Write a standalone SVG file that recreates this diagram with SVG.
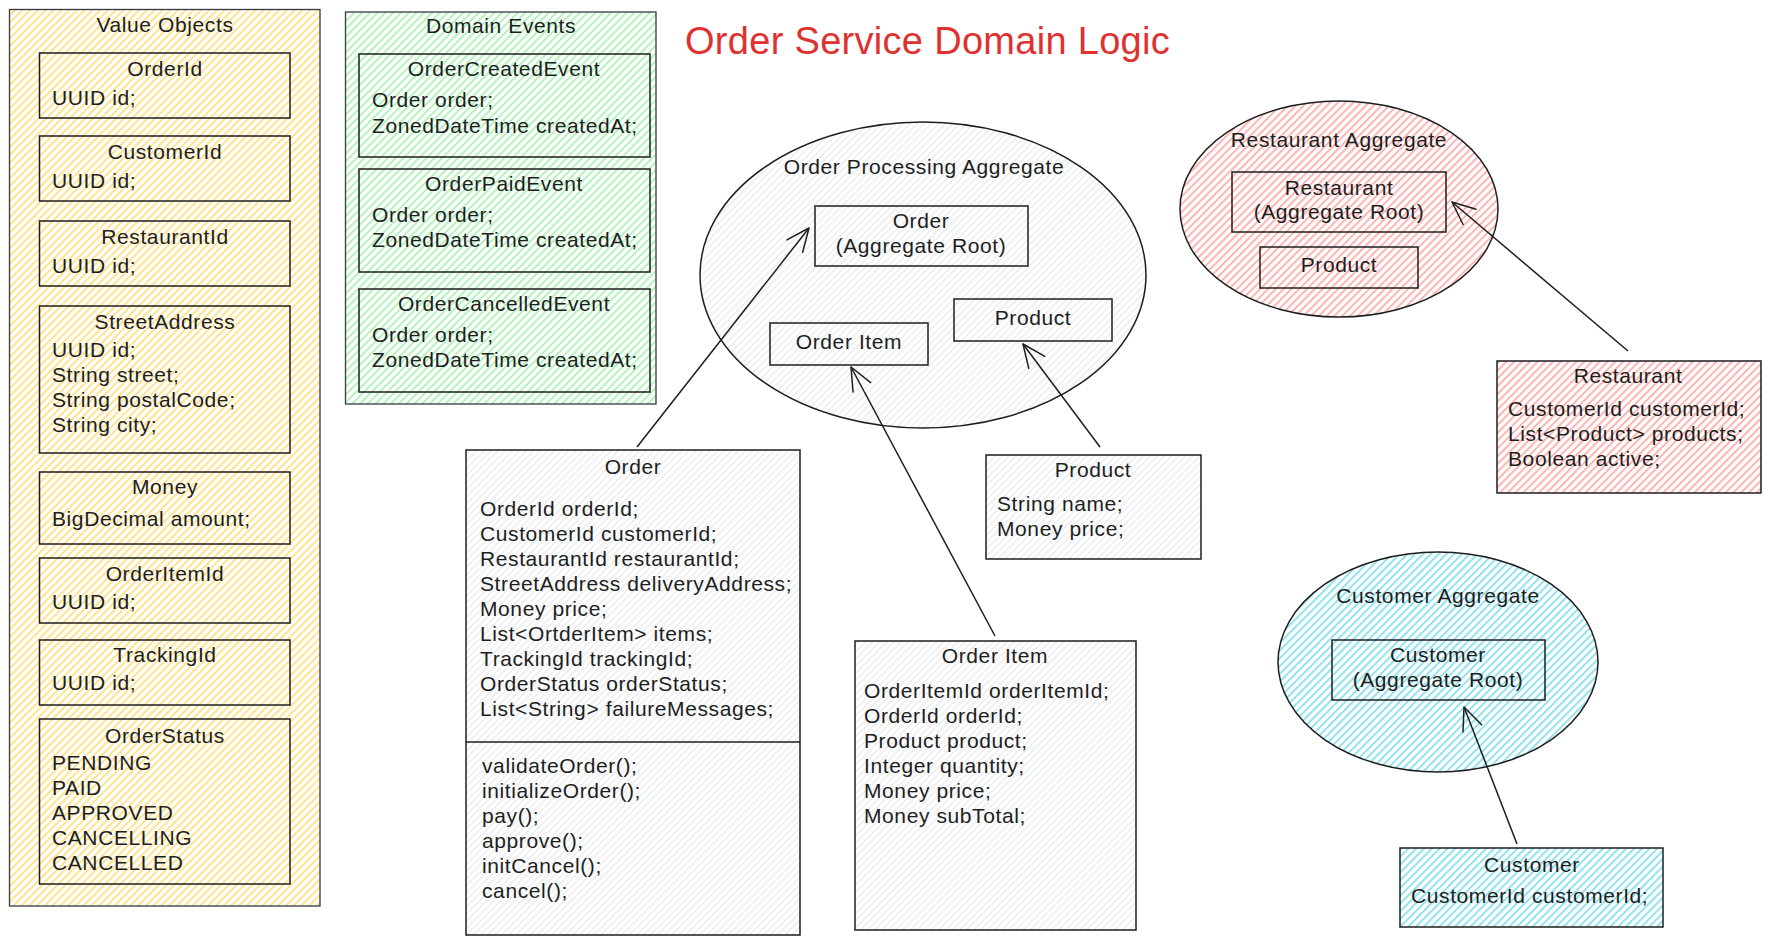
<svg xmlns="http://www.w3.org/2000/svg" width="1770" height="945" viewBox="0 0 1770 945">
<defs>
<pattern id="hy" patternUnits="userSpaceOnUse" width="5.5" height="5.5" patternTransform="rotate(45)"><line x1="1" y1="0" x2="1" y2="5.5" stroke="#ffe38a" stroke-width="2"/></pattern>
<pattern id="hgr" patternUnits="userSpaceOnUse" width="5.5" height="5.5" patternTransform="rotate(45)"><line x1="1" y1="0" x2="1" y2="5.5" stroke="#b2f2bb" stroke-width="2"/></pattern>
<pattern id="hgy" patternUnits="userSpaceOnUse" width="5" height="5" patternTransform="rotate(45)"><line x1="1" y1="0" x2="1" y2="5" stroke="#e4e6e9" stroke-width="1.2"/></pattern>
<pattern id="hp" patternUnits="userSpaceOnUse" width="5.5" height="5.5" patternTransform="rotate(45)"><line x1="1" y1="0" x2="1" y2="5.5" stroke="#ffb3b3" stroke-width="2"/></pattern>
<pattern id="hc" patternUnits="userSpaceOnUse" width="5.5" height="5.5" patternTransform="rotate(45)"><line x1="1" y1="0" x2="1" y2="5.5" stroke="#8fe3ee" stroke-width="2"/></pattern>
<marker id="arr" markerUnits="userSpaceOnUse" markerWidth="40" markerHeight="40" viewBox="-30 -20 40 40" refX="0" refY="0" orient="auto">
<path d="M-23,-10 L0,0 L-23,10" fill="none" stroke="#1e1e1e" stroke-width="1.5" stroke-linecap="round" stroke-linejoin="round"/>
</marker>
</defs>
<style>
text{font-family:"Liberation Sans",Arial,sans-serif;font-size:21px;fill:#1e1e1e;letter-spacing:0.6px}
.c{text-anchor:middle}
.t{font-size:38px;fill:#e03131;letter-spacing:0.3px}
.b{stroke:#1e1e1e;stroke-width:1.5}
.o{stroke:#343a40;stroke-width:1.3}
.n{fill:none}
.ln{stroke:#1e1e1e;stroke-width:1.5;fill:none}
</style>
<rect width="1770" height="945" fill="#ffffff"/>

<g id="title"><text class="t" x="685" y="54">Order Service Domain Logic</text></g>

<g id="value-objects">
<rect class="o" x="9.5" y="9.5" width="310.5" height="896.5" fill="url(#hy)"/>
<text class="c" x="165" y="32">Value Objects</text>
<g id="vo-orderid"><rect class="b n" x="39.5" y="53" width="250.5" height="65"/><text class="c" x="165" y="76">OrderId</text><text x="52" y="105">UUID id;</text></g>
<g id="vo-customerid"><rect class="b n" x="39.5" y="136" width="250.5" height="65"/><text class="c" x="165" y="159">CustomerId</text><text x="52" y="188">UUID id;</text></g>
<g id="vo-restaurantid"><rect class="b n" x="39.5" y="221" width="250.5" height="65"/><text class="c" x="165" y="244">RestaurantId</text><text x="52" y="273">UUID id;</text></g>
<g id="vo-streetaddress"><rect class="b n" x="39.5" y="306" width="250.5" height="147"/><text class="c" x="165" y="329">StreetAddress</text><text x="52" y="357">UUID id;</text><text x="52" y="382">String street;</text><text x="52" y="407">String postalCode;</text><text x="52" y="432">String city;</text></g>
<g id="vo-money"><rect class="b n" x="39.5" y="472" width="250.5" height="72"/><text class="c" x="165" y="494">Money</text><text x="52" y="526">BigDecimal amount;</text></g>
<g id="vo-orderitemid"><rect class="b n" x="39.5" y="558" width="250.5" height="65"/><text class="c" x="165" y="581">OrderItemId</text><text x="52" y="609">UUID id;</text></g>
<g id="vo-trackingid"><rect class="b n" x="39.5" y="640" width="250.5" height="65"/><text class="c" x="165" y="662">TrackingId</text><text x="52" y="690">UUID id;</text></g>
<g id="vo-orderstatus"><rect class="b n" x="39.5" y="719" width="250.5" height="165"/><text class="c" x="165" y="743">OrderStatus</text><text x="52" y="770">PENDING</text><text x="52" y="795">PAID</text><text x="52" y="820">APPROVED</text><text x="52" y="845">CANCELLING</text><text x="52" y="870">CANCELLED</text></g>
</g>

<g id="domain-events">
<rect class="o" x="345.5" y="12" width="310.5" height="392" fill="url(#hgr)"/>
<text class="c" x="501" y="33">Domain Events</text>
<g id="ev-created"><rect class="b n" x="359" y="54" width="291" height="103"/><text class="c" x="504" y="76">OrderCreatedEvent</text><text x="372" y="107">Order order;</text><text x="372" y="133">ZonedDateTime createdAt;</text></g>
<g id="ev-paid"><rect class="b n" x="359" y="169" width="291" height="103"/><text class="c" x="504" y="191">OrderPaidEvent</text><text x="372" y="222">Order order;</text><text x="372" y="247">ZonedDateTime createdAt;</text></g>
<g id="ev-cancelled"><rect class="b n" x="359" y="289" width="291" height="103"/><text class="c" x="504" y="311">OrderCancelledEvent</text><text x="372" y="342">Order order;</text><text x="372" y="367">ZonedDateTime createdAt;</text></g>
</g>

<g id="order-processing-aggregate">
<ellipse class="b" cx="923" cy="275" rx="223" ry="153" fill="url(#hgy)"/>
<text class="c" x="924" y="174">Order Processing Aggregate</text>
<g id="opa-order"><rect class="b n" x="815" y="206" width="213" height="60"/><text class="c" x="921" y="228">Order</text><text class="c" x="921" y="253">(Aggregate Root)</text></g>
<g id="opa-orderitem"><rect class="b n" x="770" y="323" width="158" height="42"/><text class="c" x="849" y="349">Order Item</text></g>
<g id="opa-product"><rect class="b n" x="954" y="299" width="158" height="42"/><text class="c" x="1033" y="325">Product</text></g>
</g>

<g id="order-class">
<rect class="b" x="466" y="450" width="334" height="485" fill="url(#hgy)"/>
<line class="ln" x1="466" y1="742" x2="800" y2="742"/>
<text class="c" x="633" y="474">Order</text>
<text x="480" y="516">OrderId orderId;</text>
<text x="480" y="541">CustomerId customerId;</text>
<text x="480" y="566">RestaurantId restaurantId;</text>
<text x="480" y="591">StreetAddress deliveryAddress;</text>
<text x="480" y="616">Money price;</text>
<text x="480" y="641">List&lt;OrtderItem&gt; items;</text>
<text x="480" y="666">TrackingId trackingId;</text>
<text x="480" y="691">OrderStatus orderStatus;</text>
<text x="480" y="716">List&lt;String&gt; failureMessages;</text>
<text x="482" y="773">validateOrder();</text>
<text x="482" y="798">initializeOrder();</text>
<text x="482" y="823">pay();</text>
<text x="482" y="848">approve();</text>
<text x="482" y="873">initCancel();</text>
<text x="482" y="898">cancel();</text>
</g>

<g id="product-class">
<rect class="b" x="986" y="455" width="215" height="104" fill="url(#hgy)"/>
<text class="c" x="1093" y="477">Product</text>
<text x="997" y="511">String name;</text>
<text x="997" y="536">Money price;</text>
</g>

<g id="orderitem-class">
<rect class="b" x="855" y="641" width="281" height="289" fill="url(#hgy)"/>
<text class="c" x="995" y="663">Order Item</text>
<text x="864" y="698">OrderItemId orderItemId;</text>
<text x="864" y="723">OrderId orderId;</text>
<text x="864" y="748">Product product;</text>
<text x="864" y="773">Integer quantity;</text>
<text x="864" y="798">Money price;</text>
<text x="864" y="823">Money subTotal;</text>
</g>

<g id="restaurant-aggregate">
<ellipse class="b" cx="1339" cy="209" rx="159" ry="108" fill="url(#hp)"/>
<text class="c" x="1339" y="147">Restaurant Aggregate</text>
<g id="ra-restaurant"><rect class="b n" x="1232" y="172" width="214" height="60"/><text class="c" x="1339" y="195">Restaurant</text><text class="c" x="1339" y="219">(Aggregate Root)</text></g>
<g id="ra-product"><rect class="b n" x="1260" y="247" width="158" height="41"/><text class="c" x="1339" y="272">Product</text></g>
</g>

<g id="restaurant-class">
<rect class="b" x="1497" y="361" width="264" height="132" fill="url(#hp)"/>
<text class="c" x="1628" y="383">Restaurant</text>
<text x="1508" y="416">CustomerId customerId;</text>
<text x="1508" y="441">List&lt;Product&gt; products;</text>
<text x="1508" y="466">Boolean active;</text>
</g>

<g id="customer-aggregate">
<ellipse class="b" cx="1438" cy="662" rx="160" ry="110" fill="url(#hc)"/>
<text class="c" x="1438" y="603">Customer Aggregate</text>
<g id="ca-customer"><rect class="b n" x="1332" y="640" width="213" height="60"/><text class="c" x="1438" y="662">Customer</text><text class="c" x="1438" y="687">(Aggregate Root)</text></g>
</g>

<g id="customer-class">
<rect class="b" x="1400" y="848" width="263" height="79" fill="url(#hc)"/>
<text class="c" x="1532" y="872">Customer</text>
<text x="1411" y="903">CustomerId customerId;</text>
</g>

<g id="connectors">
<line class="ln" x1="637" y1="447" x2="809" y2="228" marker-end="url(#arr)"/>
<line class="ln" x1="995" y1="636" x2="851" y2="367" marker-end="url(#arr)"/>
<line class="ln" x1="1100" y1="447" x2="1023" y2="344" marker-end="url(#arr)"/>
<line class="ln" x1="1628" y1="351" x2="1452" y2="202" marker-end="url(#arr)"/>
<line class="ln" x1="1517" y1="844" x2="1464" y2="707" marker-end="url(#arr)"/>
</g>
</svg>
